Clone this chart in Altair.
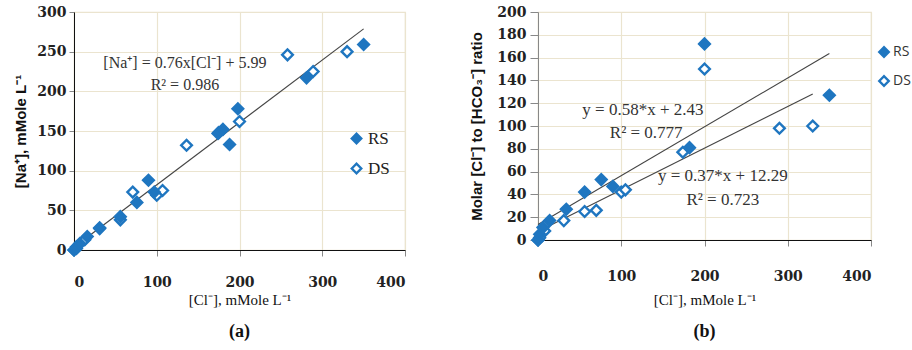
import altair as alt
import pandas as pd

BLUE = "#1f76c0"
GRID = "#ebe4cf"
LINE = "#444444"

# Panel (a): [Na+] against [Cl-], mMole/L
a_rs_x = [0, 3, 7, 16, 31, 56, 76, 90, 97, 175, 180, 188, 198, 281, 350]
a_rs_y = [0, 4, 8, 17, 28, 42, 60, 88, 73, 148, 152, 133, 178, 217, 259]
a_ds_x = [0, 3, 13, 31, 56, 71, 100, 107, 136, 174, 200, 258, 289, 330]
a_ds_y = [0, 2, 13, 27, 38, 73, 69, 75, 132, 147, 162, 246, 225, 250]

# Panel (b): molar [Cl-]/[HCO3-] ratio against [Cl-]
b_rs_x = [0, 2, 6, 14, 34, 56, 76, 90, 182, 200, 350]
b_rs_y = [0, 5, 11, 17, 27, 42, 53, 47, 81, 172, 127]
b_ds_x = [0, 2, 8, 31, 56, 70, 100, 105, 174, 200, 290, 330]
b_ds_y = [0, 2, 8, 17, 25, 26, 42, 44, 77, 150, 98, 100]

series = ["RS", "DS"]


def frame(rx, ry, dx, dy):
    return pd.DataFrame(
        {"x": rx + dx, "y": ry + dy, "series": ["RS"] * len(rx) + ["DS"] * len(dx)}
    )


df_a = frame(a_rs_x, a_rs_y, a_ds_x, a_ds_y)
df_b = frame(b_rs_x, b_rs_y, b_ds_x, b_ds_y)

notes_a = pd.DataFrame({
    "x": [134, 134],
    "y": [236, 208],
    "t": ["[Na⁺] = 0.76x[Cl⁻] + 5.99", "R² = 0.986"],
})
notes_b = pd.DataFrame({
    "x": [126, 130, 222, 222],
    "y": [114, 94, 56, 35],
    "t": ["y = 0.58*x + 2.43", "R² = 0.777", "y = 0.37*x + 12.29", "R² = 0.723"],
})

SERIF = "Liberation Serif"
TICKFONT = "DejaVu Serif"


def panel(df, notes_df, xenc, yenc, legend, fit_groups, w, h, caption, note_size, cap_offset):
    fit = alt.Chart(df).transform_regression("x", "y", groupby=fit_groups).mark_line(
        color=LINE, strokeWidth=1.1
    ).encode(x=xenc, y=yenc)
    if fit_groups:
        fit = fit.encode(detail="series:N")
    pts = alt.Chart(df).mark_point(shape="diamond", size=115, strokeWidth=2.4, opacity=1).encode(
        x=xenc,
        y=yenc,
        fill=alt.Fill("series:N", scale=alt.Scale(domain=series, range=[BLUE, "white"]), legend=legend),
        stroke=alt.Stroke("series:N", scale=alt.Scale(domain=series, range=[BLUE, BLUE]), legend=legend),
        order=alt.Order("series:N"),
    )
    txt = alt.Chart(notes_df).mark_text(font=SERIF, fontSize=note_size, color="#333333").encode(
        x=xenc, y=yenc, text="t:N"
    )
    return alt.layer(fit, pts, txt).properties(
        width=w, height=h,
        title=alt.TitleParams(caption, orient="bottom", font=SERIF, fontSize=18, fontWeight="bold",
                              color="#111111", offset=cap_offset),
    )


x_a = alt.X("x:Q", scale=alt.Scale(domain=[0, 400], nice=False), axis=alt.Axis(
    title="[Cl⁻], mMole L⁻¹", values=[0, 100, 200, 300, 400], tickSize=6, labelPadding=19,
    titlePadding=3,
))
y_a = alt.Y("y:Q", scale=alt.Scale(domain=[0, 300], nice=False), axis=alt.Axis(
    title="[Na⁺], mMole L⁻¹", values=[0, 50, 100, 150, 200, 250, 300],
    tickSize=5, labelPadding=3, titlePadding=8,
))
legend_a = alt.Legend(title=None, orient="none", legendX=274, legendY=118, padding=0,
                      labelFont=SERIF, labelFontSize=17, labelColor="#222222",
                      symbolSize=90, symbolStrokeWidth=2.4, rowPadding=9, labelOffset=3)

x_b = alt.X("x:Q", scale=alt.Scale(domain=[0, 400], nice=False), axis=alt.Axis(
    title="[Cl⁻], mMole L⁻¹", values=[0, 100, 200, 300, 400], tickSize=6, labelPadding=23,
    titlePadding=9,
))
y_b = alt.Y("y:Q", scale=alt.Scale(domain=[0, 200], nice=False), axis=alt.Axis(
    title="Molar [Cl⁻] to [HCO₃⁻] ratio", values=list(range(0, 201, 20)),
    tickSize=8, labelPadding=4, titlePadding=12, domainColor="#888888",
))
legend_b = alt.Legend(title=None, orient="none", legendX=339, legendY=33, padding=0,
                      labelFont="Open Sans", labelFontSize=14, labelColor="#333333",
                      symbolSize=90, symbolStrokeWidth=2.4, rowPadding=9, labelOffset=2)

panel_a = panel(df_a, notes_a, x_a, y_a, legend_a, [], 331, 238, "(a)", 16, 16)
panel_b = panel(df_b, notes_b, x_b, y_b, legend_b, ["series"], 333, 228, "(b)", 17, 16)

chart = alt.hconcat(panel_a, panel_b, spacing=62).resolve_scale(
    fill="independent", stroke="independent"
).resolve_legend(fill="independent", stroke="independent").properties(
    padding={"left": 13, "top": 4, "right": 0, "bottom": 0},
    background="white",
).configure_view(
    stroke=GRID, strokeWidth=1.2
).configure_axis(
    gridColor=GRID, gridWidth=1.2, domainColor="#111111", tickColor="#888888",
    labelFont=TICKFONT, labelFontSize=14, labelFontWeight="bold", labelColor="#222222",
    titleColor="#111111",
).configure_axisX(
    titleFont=SERIF, titleFontSize=15, titleFontWeight="normal",
).configure_axisY(
    titleFont="Liberation Sans", titleFontSize=15, titleFontWeight="bold",
)

chart.save("out.html", embed_options={"renderer": "svg", "actions": False})
